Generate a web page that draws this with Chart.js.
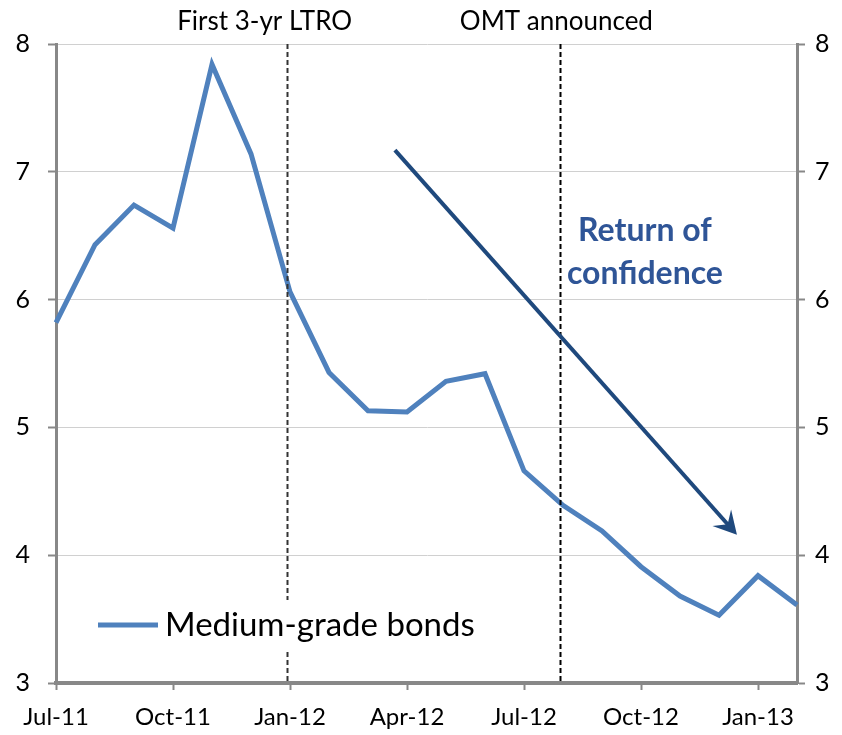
<!DOCTYPE html>
<html>
<head>
<meta charset="utf-8">
<script src="https://cdn.jsdelivr.net/npm/chart.js@4.4.1/dist/chart.umd.min.js"></script>
<style>
  html, body { margin: 0; padding: 0; background: #ffffff; }
  #wrap { width: 842px; height: 735px; position: relative; }
</style>
</head>
<body>
<div id="wrap"><canvas id="c" width="842" height="735"></canvas></div>
<script>
// ---- data ----
const months = ["Jul-11","Aug-11","Sep-11","Oct-11","Nov-11","Dec-11","Jan-12","Feb-12","Mar-12","Apr-12","May-12","Jun-12","Jul-12","Aug-12","Sep-12","Oct-12","Nov-12","Dec-12","Jan-13","Feb-13"];
const mediumGrade = [5.82, 6.43, 6.74, 6.56, 7.84, 7.14, 6.06, 5.43, 5.13, 5.12, 5.36, 5.42, 4.66, 4.39, 4.19, 3.91, 3.68, 3.53, 3.84, 3.61];
const seriesLabel = "Medium-grade bonds";
const yTicks = [3, 4, 5, 6, 7, 8];
// event markers: category position, label, label centre position
const eventPositions = [5.92, 12.93];
const eventLabels = ["First 3-yr LTRO", "OMT announced"];
const eventLabelPositions = [5.35, 12.83];
// arrow annotation in data space
const arrowFrom = [8.69, 7.17];
const arrowTo = [17.46, 4.16];
const noteLines = ["Return of", "confidence"];
const notePos = [15.1, 6.46];

const FONT = "Lato, 'Open Sans', sans-serif";

const overlay = {
  id: 'overlay',
  afterDatasetsDraw(chart) {
    const ctx = chart.ctx;
    const x = chart.scales.x, y = chart.scales.y;
    const top = chart.chartArea.top, bottom = chart.chartArea.bottom;
    ctx.save();
    // event lines
    eventPositions.forEach((p, i) => {
      const px = Math.round(x.getPixelForValue(p)) + 0.5;
      ctx.strokeStyle = i === 0 ? '#333333' : '#000000';
      ctx.lineWidth = 2;
      ctx.setLineDash([5, 3]);
      ctx.beginPath();
      ctx.moveTo(px, top);
      ctx.lineTo(px, bottom);
      ctx.stroke();
      ctx.setLineDash([]);
      ctx.fillStyle = '#000000';
      ctx.font = "26px " + FONT;
      ctx.textAlign = 'center';
      ctx.textBaseline = 'alphabetic';
      ctx.fillText(eventLabels[i], x.getPixelForValue(eventLabelPositions[i]), 30);
    });
    // arrow
    const ax0 = x.getPixelForValue(arrowFrom[0]), ay0 = y.getPixelForValue(arrowFrom[1]);
    const ax1 = x.getPixelForValue(arrowTo[0]), ay1 = y.getPixelForValue(arrowTo[1]);
    const ang = Math.atan2(ay1 - ay0, ax1 - ax0);
    const col = '#1F497D';
    ctx.strokeStyle = col;
    ctx.fillStyle = col;
    ctx.lineWidth = 4;
    ctx.lineCap = 'butt';
    ctx.beginPath();
    ctx.moveTo(ax0, ay0);
    ctx.lineTo(ax1 - 12 * Math.cos(ang), ay1 - 12 * Math.sin(ang));
    ctx.stroke();
    const L = 26, W = 0.5;
    ctx.beginPath();
    ctx.moveTo(ax1, ay1);
    ctx.lineTo(ax1 - L * Math.cos(ang - W), ay1 - L * Math.sin(ang - W));
    ctx.lineTo(ax1 - 14 * Math.cos(ang), ay1 - 14 * Math.sin(ang));
    ctx.lineTo(ax1 - L * Math.cos(ang + W), ay1 - L * Math.sin(ang + W));
    ctx.closePath();
    ctx.fill();
    // note text
    const nx = x.getPixelForValue(notePos[0]), ny = y.getPixelForValue(notePos[1]);
    ctx.fillStyle = '#2F5597';
    ctx.font = "bold 32px " + FONT;
    ctx.textAlign = 'center';
    ctx.fillText(noteLines[0], nx, ny);
    ctx.fillText(noteLines[1], nx, ny + 43);
    // legend
    ctx.fillStyle = '#ffffff';
    ctx.fillRect(92, 600, 400, 52);
    ctx.strokeStyle = '#4F81BD';
    ctx.lineWidth = 5;
    ctx.beginPath();
    ctx.moveTo(98, 625);
    ctx.lineTo(158, 625);
    ctx.stroke();
    ctx.fillStyle = '#000000';
    ctx.font = "33px " + FONT;
    ctx.textAlign = 'left';
    ctx.textBaseline = 'middle';
    ctx.fillText(seriesLabel, 165, 625);
    ctx.restore();
  }
};

new Chart(document.getElementById('c'), {
  type: 'line',
  data: {
    labels: months,
    datasets: [{
      label: seriesLabel,
      data: mediumGrade,
      borderColor: '#4F81BD',
      borderWidth: 5,
      pointRadius: 0,
      tension: 0,
      fill: false,
      borderJoinStyle: 'miter',
      yAxisID: 'y'
    }]
  },
  options: {
    responsive: false,
    animation: false,
    devicePixelRatio: 1,
    layout: { padding: { top: 44, left: 0, right: 0, bottom: 0 } },
    plugins: { legend: { display: false }, tooltip: { enabled: false } },
    scales: {
      x: {
        type: 'category',
        offset: false,
        afterFit(s) { s.height = 52; },
        grid: {
          drawOnChartArea: false,
          drawTicks: true,
          tickLength: 7,
          tickWidth: 2,
          tickColor: (c) => (c.index % 3 === 0 ? '#888888' : 'rgba(0,0,0,0)')
        },
        border: { color: '#888888', width: 4 },
        ticks: {
          autoSkip: false,
          maxRotation: 0,
          padding: 13,
          color: '#000000',
          font: { family: FONT, size: 24 },
          callback: (v, i) => (i % 3 === 0 ? months[i] : '')
        }
      },
      y: {
        position: 'left',
        min: 3, max: 8,
        afterFit(s) { s.width = 56; },
        afterBuildTicks(s) { s.ticks = yTicks.map(v => ({ value: v })); },
        grid: {
          color: '#d0d0d0',
          lineWidth: 1,
          borderDash: [4, 3],
          tickLength: 8,
          tickColor: '#888888',
          tickWidth: 2,
          tickBorderDash: []
        },
        border: { color: '#888888', width: 3 },
        ticks: {
          padding: 18,
          color: '#000000',
          font: { family: FONT, size: 25 }
        }
      },
      y2: {
        position: 'right',
        min: 3, max: 8,
        afterFit(s) { s.width = 45; },
        afterBuildTicks(s) { s.ticks = yTicks.map(v => ({ value: v })); },
        grid: {
          drawOnChartArea: false,
          tickLength: 8,
          tickColor: '#888888',
          tickWidth: 2
        },
        border: { color: '#888888', width: 3 },
        ticks: {
          padding: 10,
          color: '#000000',
          font: { family: FONT, size: 25 }
        }
      }
    }
  },
  plugins: [overlay]
});
</script>
</body>
</html>
